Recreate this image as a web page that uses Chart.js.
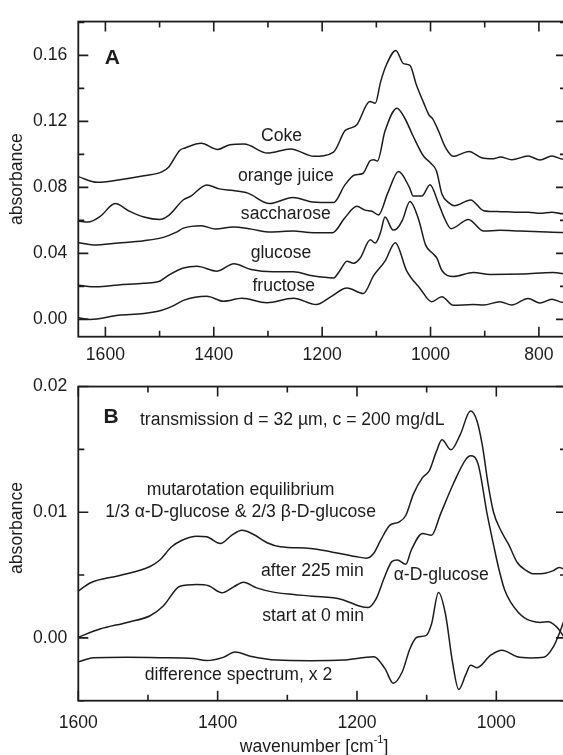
<!DOCTYPE html>
<html><head><meta charset="utf-8">
<script src="https://cdn.jsdelivr.net/npm/chart.js@4.4.1/dist/chart.umd.min.js"></script>
<style>
html,body{margin:0;padding:0;background:#fff;overflow:hidden;width:563px;height:755px;}
canvas{position:absolute;left:0;}
#ca{top:0;}
#cb{top:365px;}
</style></head><body>
<canvas id="ca" width="600" height="365"></canvas>
<canvas id="cb" width="600" height="395"></canvas>
<script>
// ---------- Panel A data (wavenumber cm-1, absorbance) ----------
const wnCoke = [1650,1615,1576,1529,1496,1483,1463,1453,1423,1393,1370,1344,1301,1258,1215,1179,1158,1148,1136,1112,1102,1092,1081,1064,1050,1038,1026,1013,1003,996,985,973,958,929,906,884,871,850,820,798,776,755,750];
const absCoke = [0.0865,0.0831,0.0845,0.0870,0.0894,0.0924,0.1024,0.1039,0.1067,0.1030,0.1059,0.1063,0.1008,0.1033,0.0988,0.1014,0.1143,0.1159,0.1180,0.1320,0.1310,0.1441,0.1546,0.1630,0.1550,0.1540,0.1420,0.1315,0.1240,0.1215,0.1140,0.1045,0.0988,0.1018,0.0980,0.0974,0.0984,0.0968,0.0990,0.0966,0.0990,0.0970,0.0972];

const wnOJ = [1650,1632,1609,1582,1556,1529,1500,1483,1456,1443,1413,1390,1364,1337,1297,1254,1218,1179,1158,1140,1125,1112,1105,1098,1084,1062,1048,1032,1013,999,989,979,966,956,926,902,871,845,820,798,776,755,750];
const absOJ = [0.0596,0.0590,0.0626,0.0702,0.0656,0.0620,0.0605,0.0630,0.0725,0.0745,0.0815,0.0791,0.0781,0.0765,0.0702,0.0739,0.0712,0.0708,0.0815,0.0875,0.0884,0.0960,0.0968,0.0960,0.1141,0.1280,0.1222,0.1110,0.0990,0.0945,0.0900,0.0760,0.0706,0.0689,0.0724,0.0659,0.0653,0.0650,0.0650,0.0643,0.0650,0.0640,0.0640];

const wnSac = [1650,1622,1576,1529,1493,1470,1456,1423,1397,1364,1331,1295,1253,1224,1181,1158,1136,1121,1108,1096,1079,1059,1039,1032,1016,1001,985,976,962,930,902,872,835,798,755,750];
const absSac = [0.0465,0.0451,0.0463,0.0477,0.0497,0.0527,0.0553,0.0568,0.0547,0.0560,0.0547,0.0529,0.0535,0.0527,0.0525,0.0616,0.0685,0.0662,0.0655,0.0633,0.0765,0.0896,0.0800,0.0748,0.0748,0.0816,0.0700,0.0626,0.0550,0.0606,0.0535,0.0540,0.0535,0.0531,0.0527,0.0527];

const wnGlu = [1650,1616,1576,1529,1499,1483,1456,1431,1394,1363,1331,1291,1253,1218,1179,1168,1154,1142,1130,1111,1102,1092,1084,1069,1062,1052,1038,1022,1009,996,988,979,958,921,890,829,774,750];
const absGlu = [0.0207,0.0197,0.0209,0.0219,0.0233,0.0268,0.0311,0.0322,0.0292,0.0337,0.0302,0.0288,0.0288,0.0264,0.0251,0.0292,0.0353,0.0340,0.0370,0.0482,0.0463,0.0530,0.0620,0.0541,0.0550,0.0600,0.0714,0.0606,0.0450,0.0400,0.0370,0.0296,0.0260,0.0284,0.0272,0.0275,0.0284,0.0275];

const wnFru = [1650,1628,1576,1529,1496,1476,1456,1413,1382,1348,1302,1253,1211,1185,1154,1124,1105,1084,1065,1044,1019,998,979,958,921,902,872,850,820,798,776,755,750];
const absFru = [0.0010,0.0000,0.0025,0.0035,0.0055,0.0080,0.0115,0.0140,0.0110,0.0128,0.0101,0.0128,0.0090,0.0135,0.0190,0.0157,0.0265,0.0353,0.0465,0.0294,0.0186,0.0107,0.0137,0.0085,0.0090,0.0087,0.0107,0.0087,0.0127,0.0099,0.0122,0.0102,0.0102];

// ---------- Panel B data ----------
const wnEq = [1600,1583,1542,1497,1483,1466,1451,1430,1416,1396,1380,1365,1349,1329,1310,1267,1238,1202,1186,1176,1166,1153,1140,1130,1119,1106,1096,1086,1078,1065,1052,1037,1028,1020,1012,1004,994,982,970,958,946,930,918,910,900];
const absEq = [0.00372,0.00437,0.00495,0.00568,0.00620,0.00725,0.00777,0.00809,0.00805,0.00751,0.00816,0.00856,0.00825,0.00757,0.00725,0.00712,0.00686,0.00647,0.00634,0.00673,0.00777,0.00895,0.00921,0.00974,0.01144,0.01275,0.01332,0.01484,0.01576,0.01497,0.01615,0.01805,0.01730,0.01530,0.01230,0.01000,0.00860,0.00740,0.00600,0.00540,0.00510,0.00515,0.00535,0.00560,0.00540];

const wnA0 = [1600,1569,1530,1497,1478,1454,1430,1413,1394,1377,1363,1344,1320,1291,1264,1222,1197,1184,1173,1160,1150,1142,1130,1122,1106,1093,1080,1062,1044,1037,1026,1013,1004,996,988,979,968,960,950,937,925,915,908,900];
const absA0 = [0.00005,0.00070,0.00123,0.00176,0.00254,0.00411,0.00424,0.00415,0.00359,0.00406,0.00443,0.00398,0.00364,0.00345,0.00332,0.00306,0.00254,0.00241,0.00306,0.00490,0.00607,0.00620,0.00585,0.00699,0.00830,0.00817,0.00987,0.01223,0.01419,0.01450,0.01380,0.00980,0.00740,0.00540,0.00380,0.00280,0.00200,0.00162,0.00135,0.00123,0.00129,0.00095,0.00050,-0.00020];

const wnDiff = [1600,1578,1530,1483,1435,1416,1392,1375,1353,1315,1267,1219,1176,1160,1148,1135,1124,1114,1101,1093,1083,1073,1063,1054,1044,1037,1028,1008,992,970,951,932,918,910,904,900];
const absDiff = [-0.00191,-0.00159,-0.00155,-0.00158,-0.00165,-0.00180,-0.00155,-0.00112,-0.00146,-0.00177,-0.00182,-0.00177,-0.00151,-0.00243,-0.00361,-0.00270,-0.00086,0.00005,0.00018,0.00110,0.00362,0.00190,-0.00190,-0.00410,-0.00295,-0.00217,-0.00238,-0.00138,-0.00099,-0.00151,-0.00160,-0.00155,-0.00070,0.00030,0.00120,0.00180];

// ---------- tick labels ----------
const xLabelsA = [1600,1400,1200,1000,800];
const xMinorA = [1600,1500,1400,1300,1200,1100,1000,900,800];
const yLabelsA = [0.00,0.04,0.08,0.12,0.16];
const yMinorA = [0.00,0.02,0.04,0.06,0.08,0.10,0.12,0.14,0.16,0.18];
const xLabelsB = [1600,1400,1200,1000];
const xMinorB = [1600,1500,1400,1300,1200,1100,1000,900];
const yLabelsB = [0.00,0.01,0.02];
const yMinorB = [-0.005,0.00,0.005,0.01,0.015,0.02];

// ---------- annotations ----------
const notesA = [
  {t:'A', x:1587, y:0.1585, bold:true},
  {t:'Coke', x:1275, y:0.1108},
  {t:'orange juice', x:1267, y:0.0866},
  {t:'saccharose', x:1267, y:0.0635},
  {t:'glucose', x:1276, y:0.0403},
  {t:'fructose', x:1271, y:0.0202}
];
const notesB = [
  {t:'B', x:1553, y:0.0176, bold:true},
  {t:'transmission d = 32 µm, c = 200 mg/dL', x:1293, y:0.01734},
  {t:'mutarotation equilibrium', x:1367, y:0.01173},
  {t:'1/3 α-D-glucose & 2/3 β-D-glucose', x:1367, y:0.0100},
  {t:'after 225 min', x:1264, y:0.00535},
  {t:'α-D-glucose', x:1079, y:0.00496},
  {t:'start at 0 min', x:1263, y:0.0017},
  {t:'difference spectrum, x 2', x:1370, y:-0.0030}
];

const INK = '#1c1c1c';
const FAM = "'Liberation Sans', Arial, Helvetica, sans-serif";
const FS = 17.6;

const framePlugin = {
  id: 'frame',
  afterDatasetsDraw(chart, args, o) {
    const {ctx, chartArea: a, scales: {x, y}} = chart;
    ctx.save();
    ctx.strokeStyle = INK;
    ctx.lineWidth = 1.8;
    ctx.strokeRect(a.left, a.top, a.right - a.left, a.bottom - a.top);
    ctx.lineWidth = 1.6;
    ctx.beginPath();
    for (const t of o.xMinor) {
      const px = x.getPixelForValue(t);
      const L = o.xMajor.includes(t) ? 10 : 6;
      ctx.moveTo(px, a.bottom); ctx.lineTo(px, a.bottom - L);
      ctx.moveTo(px, a.top); ctx.lineTo(px, a.top + L);
    }
    for (const t of o.yMinor) {
      const py = y.getPixelForValue(t);
      const L = o.yMajor.some(v => Math.abs(v - t) < 1e-9) ? 10 : 6;
      ctx.moveTo(a.left, py); ctx.lineTo(a.left + L, py);
      ctx.moveTo(a.right, py); ctx.lineTo(a.right - L, py);
    }
    ctx.stroke();
    ctx.fillStyle = INK;
    ctx.textAlign = 'center';
    ctx.textBaseline = 'middle';
    for (const n of o.notes) {
      ctx.font = n.bold ? `bold 21px ${FAM}` : `${FS}px ${FAM}`;
      ctx.fillText(n.t, x.getPixelForValue(n.x), y.getPixelForValue(n.y));
    }
    ctx.font = `${FS}px ${FAM}`;
    if (o.yTitle) {
      ctx.save();
      ctx.translate(o.yTitle.px, o.yTitle.py);
      ctx.rotate(-Math.PI / 2);
      ctx.fillText(o.yTitle.text, 0, 0);
      ctx.restore();
    }
    if (o.xTitle) {
      const t = o.xTitle;
      ctx.textAlign = 'left';
      const w1 = ctx.measureText(t.main).width;
      ctx.font = `${FS * 0.62}px ${FAM}`;
      const w2 = ctx.measureText(t.sup).width;
      ctx.font = `${FS}px ${FAM}`;
      const w3 = ctx.measureText(t.end).width;
      let sx = t.px - (w1 + w2 + w3) / 2;
      ctx.fillText(t.main, sx, t.py);
      ctx.font = `${FS * 0.62}px ${FAM}`;
      ctx.fillText(t.sup, sx + w1, t.py - 7);
      ctx.font = `${FS}px ${FAM}`;
      ctx.fillText(t.end, sx + w1 + w2, t.py);
    }
    ctx.restore();
  }
};

function series(wn, ab) { return wn.map((w, i) => ({x: w, y: ab[i]})); }
function ds(wn, ab) {
  return {data: series(wn, ab), borderColor: INK, borderWidth: 1.5, pointRadius: 0, fill: false, cubicInterpolationMode: 'monotone'};
}
const tickFont = {family: FAM, size: FS};

function makeChart(el, cfg) {
  return new Chart(el, {
    type: 'line',
    data: {datasets: cfg.datasets},
    plugins: [framePlugin],
    options: {
      responsive: false, animation: false, events: [],
      layout: {padding: {left: 0, top: cfg.padTop, right: 34, bottom: 0}},
      plugins: {legend: {display: false}, tooltip: {enabled: false}, frame: cfg.frame},
      scales: {
        x: {
          type: 'linear', reverse: true, min: cfg.xmin, max: cfg.xmax,
          grid: {display: false, drawTicks: false}, border: {display: false},
          afterBuildTicks: s => { s.ticks = cfg.xLabels.map(v => ({value: v})); },
          ticks: {font: tickFont, color: INK, padding: cfg.xPad, maxRotation: 0, autoSkip: false, callback: v => String(v)},
          afterFit: s => { s.height = cfg.xH; }
        },
        y: {
          type: 'linear', min: cfg.ymin, max: cfg.ymax,
          grid: {display: false, drawTicks: false}, border: {display: false},
          afterBuildTicks: s => { s.ticks = cfg.yLabels.map(v => ({value: v})); },
          ticks: {font: tickFont, color: INK, padding: 11, autoSkip: false, callback: v => v.toFixed(2)},
          title: {display: cfg.yTitleLib, text: 'absorbance', color: INK, font: tickFont, padding: {top: 6.5, bottom: 0}},
          afterFit: s => { s.width = 78.3; }
        }
      }
    }
  });
}

makeChart(document.getElementById('ca'), {
  datasets: [ds(wnCoke, absCoke), ds(wnOJ, absOJ), ds(wnSac, absSac), ds(wnGlu, absGlu), ds(wnFru, absFru)],
  padTop: 15.3, xmin: 750, xmax: 1650, ymin: -0.0105, ymax: 0.1805,
  xLabels: xLabelsA, yLabels: yLabelsA, xPad: 8, xH: 365 - 336.7 - 0, yTitleLib: true,
  frame: {xMinor: xMinorA, xMajor: xLabelsA, yMinor: yMinorA, yMajor: yLabelsA, notes: notesA}
});

makeChart(document.getElementById('cb'), {
  datasets: [ds(wnEq, absEq), ds(wnA0, absA0), ds(wnDiff, absDiff)],
  padTop: 16, xmin: 900, xmax: 1600, ymin: -0.005, ymax: 0.02,
  xLabels: xLabelsB, yLabels: yLabelsB, xPad: 12, xH: 395 - 335.7, yTitleLib: false,
  frame: {xMinor: xMinorB, xMajor: xLabelsB, yMinor: yMinorB, yMajor: yLabelsB, notes: notesB,
    yTitle: {text: 'absorbance', px: 17, py: 163},
    xTitle: {main: 'wavenumber [cm', sup: '-1', end: ']', px: 314, py: 381.7}}
});
</script>
</body></html>
